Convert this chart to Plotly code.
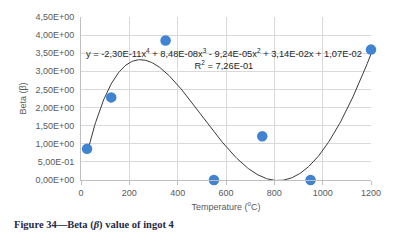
import numpy as np
import plotly.graph_objects as go

temperature = [25, 125, 350, 550, 750, 950, 1200]
beta = [0.86, 2.28, 3.85, 0.0, 1.21, 0.0, 3.60]
coeffs = [-2.30e-11, 8.48e-08, -9.24e-05, 3.14e-02, 1.07e-02]  # trendline, x^4..x^0
y_ticks = [0, 0.5, 1.0, 1.5, 2.0, 2.5, 3.0, 3.5, 4.0, 4.5]
y_tick_text = ["0,00E+00", "5,00E-01", "1,00E+00", "1,50E+00", "2,00E+00",
               "2,50E+00", "3,00E+00", "3,50E+00", "4,00E+00", "4,50E+00"]
x_ticks = [0, 200, 400, 600, 800, 1000, 1200]

xs = np.linspace(min(temperature), max(temperature), 300)
ys = np.polyval(coeffs, xs)

fig = go.Figure()
fig.add_trace(go.Scatter(x=xs, y=ys, mode="lines",
                         line=dict(color="#3a3a3a", width=1),
                         cliponaxis=False, showlegend=False))
fig.add_trace(go.Scatter(x=temperature, y=beta, mode="markers",
                         marker=dict(color="#3f83d1", size=10.5),
                         cliponaxis=False, showlegend=False))

font_family = "Liberation Sans, Arial, sans-serif"
fig.update_layout(
    width=393, height=251,
    margin=dict(l=81, r=21, t=13, b=71),
    paper_bgcolor="white", plot_bgcolor="white",
    font=dict(family=font_family, size=9, color="#595959"),
    xaxis=dict(range=[0, 1200], tickvals=x_ticks, showgrid=True,
               gridcolor="#d9d9d9", gridwidth=1, showline=True,
               linecolor="#bfbfbf", ticks="outside", ticklen=4,
               tickcolor="#bfbfbf", zeroline=False,
               title=dict(text="Temperature (<sup>o</sup>C)", standoff=6,
                          font=dict(size=9, color="#595959")),
               tickfont=dict(size=9, color="#595959")),
    yaxis=dict(range=[0, 4.5], tickvals=y_ticks, ticktext=y_tick_text,
               showgrid=True, gridcolor="#d9d9d9", gridwidth=1,
               showline=True, linecolor="#bfbfbf", zeroline=False,
               ticks="", ticklabelstandoff=4,
               title=dict(text="Beta (β)", standoff=7,
                          font=dict(size=9, color="#595959")),
               tickfont=dict(size=9, color="#595959")),
)

fig.add_annotation(
    xref="paper", yref="paper", x=(224 - 81) / (372 - 81), y=(180 - 56) / (180 - 13),
    text="y = -2,30E-11x<sup>4</sup> + 8,48E-08x<sup>3</sup> - 9,24E-05x<sup>2</sup> + 3,14E-02x + 1,07E-02<br>R<sup>2</sup> = 7,26E-01",
    showarrow=False, align="center", xanchor="center", yanchor="middle",
    font=dict(family=font_family, size=9.3, color="#262626"))

fig.add_annotation(
    xref="paper", yref="paper", x=(12 - 81) / (372 - 81), y=(180 - 226) / (180 - 13),
    text="<b>Figure 34—Beta (<i>β</i>) value of ingot 4</b>",
    showarrow=False, xanchor="left", yanchor="middle",
    font=dict(family="Liberation Serif, Times New Roman, serif", size=10.5, color="#1f2a44"))

fig.write_html("out.html", config={"displayModeBar": False},
               post_script="document.body.style.margin='0';document.body.style.overflow='hidden';")
